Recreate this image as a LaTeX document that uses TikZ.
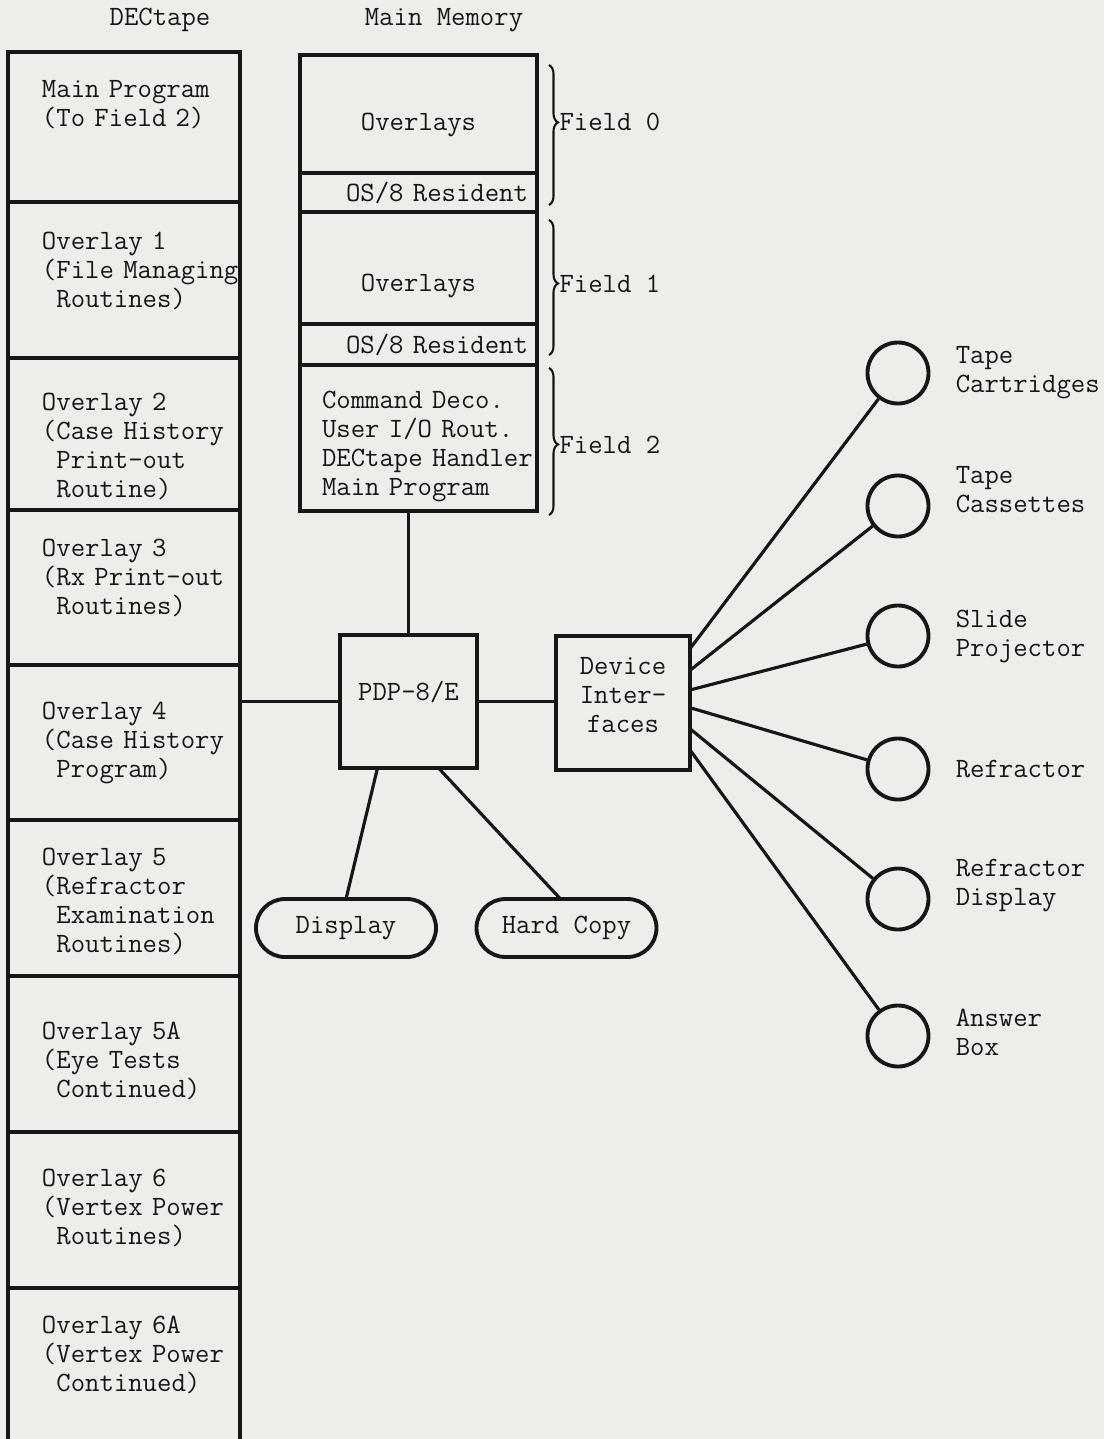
\documentclass[tikz,border=0pt]{standalone}
\usepackage{fontspec}
\usetikzlibrary{positioning, calc, shapes.misc, decorations.pathreplacing}
\definecolor{paper}{RGB}{237,237,234}
\definecolor{ink}{RGB}{22,22,22}
\newcommand{\tlines}[2][l]{\begin{tabular}{@{}#1@{}}#2\end{tabular}}
\newcommand{\ind}{\hphantom{(}}
\newcommand{\drop}[1]{\rule{0pt}{#1}}

\begin{document}
\begin{tikzpicture}[
  x=0.2mm, y=-0.2mm,
  font=\fontsize{15.9}{16.5}\selectfont\ttfamily,
  every node/.style={text=ink},
  wall/.style={draw=ink, line width=2.2pt, outer sep=0pt},
  tapebox/.style={wall, minimum width=46.4mm, text width=32.8mm,
    inner xsep=6.8mm, inner ysep=0pt, align=left},
  membox/.style={wall, minimum width=47.4mm, inner sep=0pt, align=center},
  osbox/.style={membox, text width=43.8mm, inner xsep=1.8mm, align=right},
  unit/.style={wall, align=center, inner sep=0pt},
  pill/.style={wall, rounded rectangle, minimum width=36mm,
    minimum height=11.6mm, inner sep=0pt},
  dev/.style={draw=ink, line width=2.2pt, circle, minimum size=12.2mm, inner sep=0pt},
  devname/.style={right=5mm of #1, inner sep=0pt, align=left},
  wire/.style={draw=ink, line width=1.8pt},
  field/.style={draw=ink, line width=1.2pt, decorate,
    decoration={brace, amplitude=1.8mm, aspect=#1}},
]

\fill[paper] (0,0) rectangle (1104,1439);
\useasboundingbox (0,0) rectangle (1104,1439);

% ---- headings ---------------------------------------------------------------
\node (tapehead) at (160,20) {DECtape};
\node (memhead) at (444,20) {Main Memory};

% ---- DECtape, top to bottom -------------------------------------------------
\node[tapebox, minimum height=30mm] (main) at (124,127)
  {\tlines{Main Program\\(To Field 2)\\[8.2mm]}};
\node[tapebox, minimum height=31.2mm, below=0pt of main] (ov1)
  {\tlines{Overlay 1\\(File Managing\\\ind Routines)\\[2.8mm]}};
\node[tapebox, minimum height=30.4mm, below=0pt of ov1] (ov2)
  {\tlines{\drop{27.5pt}Overlay 2\\(Case History\\\ind Print-out\\\ind Routine)}};
\node[tapebox, minimum height=31mm, below=0pt of ov2] (ov3)
  {\tlines{Overlay 3\\(Rx Print-out\\\ind Routines)\\[3.2mm]}};
\node[tapebox, minimum height=31mm, below=0pt of ov3] (ov4)
  {\tlines{Overlay 4\\(Case History\\\ind Program)}};
\node[tapebox, minimum height=31.2mm, below=0pt of ov4] (ov5)
  {\tlines{\drop{17pt}Overlay 5\\(Refractor\\\ind Examination\\\ind Routines)}};
\node[tapebox, minimum height=31.2mm, below=0pt of ov5] (ov5a)
  {\tlines{\drop{21.8pt}Overlay 5A\\(Eye Tests\\\ind Continued)}};
\node[tapebox, minimum height=31.2mm, below=0pt of ov5a] (ov6)
  {\tlines{Overlay 6\\(Vertex Power\\\ind Routines)}};
\node[tapebox, minimum height=34mm, below=0pt of ov6] (ov6a)
  {\tlines{Overlay 6A\\(Vertex Power\\\ind Continued)\\[6.4mm]}};

% ---- main memory, three fields ----------------------------------------------
\node[membox, minimum height=23.6mm] (ovl0) at (418.5,114)
  {\tlines[c]{\drop{24pt}Overlays}};
\node[osbox, minimum height=7.8mm, below=0pt of ovl0] (res0) {OS/8 Resident};
\node[membox, minimum height=22.4mm, below=0pt of res0] (ovl1)
  {\tlines[c]{\drop{32pt}Overlays}};
\node[osbox, minimum height=8.2mm, below=0pt of ovl1] (res1) {OS/8 Resident};
\node[membox, minimum height=29.2mm, text width=38.6mm, inner xsep=4.4mm,
      align=left, below=0pt of res1] (fld2)
  {\tlines{\drop{20.7pt}Command Deco.\\User I/O Rout.\\DECtape Handler\\Main Program}};

\draw[field=0.41] ($(ovl0.north east)+(12,10)$)
  -- node[pos=0.41, right=1.9mm, inner sep=0pt] (f0) {Field 0}
  ($(res0.south east)+(12,-7)$);
\draw[field=0.47] ($(ovl1.north east)+(12,8)$)
  -- node[pos=0.47, right=1.9mm, inner sep=0pt] (f1) {Field 1}
  ($(res1.south east)+(12,-10)$);
\draw[field=0.52] ($(fld2.north east)+(12,3)$)
  -- node[pos=0.52, right=1.9mm, inner sep=0pt] (f2) {Field 2}
  ($(fld2.south east)+(12,4)$);

% ---- processor and its neighbours -------------------------------------------
\node[unit, minimum width=27.4mm, minimum height=26.6mm] (pdp) at (408.5,701.5)
  {\tlines[c]{PDP-8/E\\[2.8mm]}};
\node[unit, minimum size=26.8mm] (iface) at (623,703)
  {\tlines[c]{Device\\Inter-\\faces\\[2.2mm]}};
\node[pill] (disp) at (346,928) {Display};
\node[pill] (hcopy) at (566.5,928) {Hard Copy};

\draw[wire] (pdp.north) -- (pdp.north |- fld2.south);
\draw[wire] (pdp.west) -- (pdp.west -| ov4.east);
\draw[wire] (pdp.east) -- (pdp.east -| iface.west);
\draw[wire] ($(pdp.south)+(-31,0)$) -- (disp.north);
\draw[wire] ($(pdp.south)+(30,0)$) -- ($(hcopy.north)+(-6,0)$);

% ---- devices fanned out on the right ----------------------------------------
\node[dev] (cart) at (898,373) {};
\node[dev] (cass) at (898,506) {};
\node[dev] (slide) at (898,636) {};
\node[dev] (refr) at (898,769) {};
\node[dev] (rdisp) at (898,899) {};
\node[dev] (answer) at (898,1036) {};

\node[devname=cart] (cartl) {Tape\\Cartridges};
\node[devname=cass, yshift=3.2mm] (cassl) {Tape\\Cassettes};
\node[devname=slide] (slidel) {Slide\\Projector};
\node[devname=refr] (refrl) {Refractor};
\node[devname=rdisp, yshift=2.6mm] (rdispl) {Refractor\\Display};
\node[devname=answer, yshift=0.8mm] (answerl) {Answer\\Box};

\draw[wire] (iface.39.9) -- (cart);
\draw[wire] (iface.26.2) -- (cass);
\draw[wire] (iface.11) -- (slide);
\draw[wire] (iface.-4.3) -- (refr);
\draw[wire] (iface.-21.9) -- (rdisp);
\draw[wire] (iface.-35) -- (answer);

\end{tikzpicture}
\end{document}
